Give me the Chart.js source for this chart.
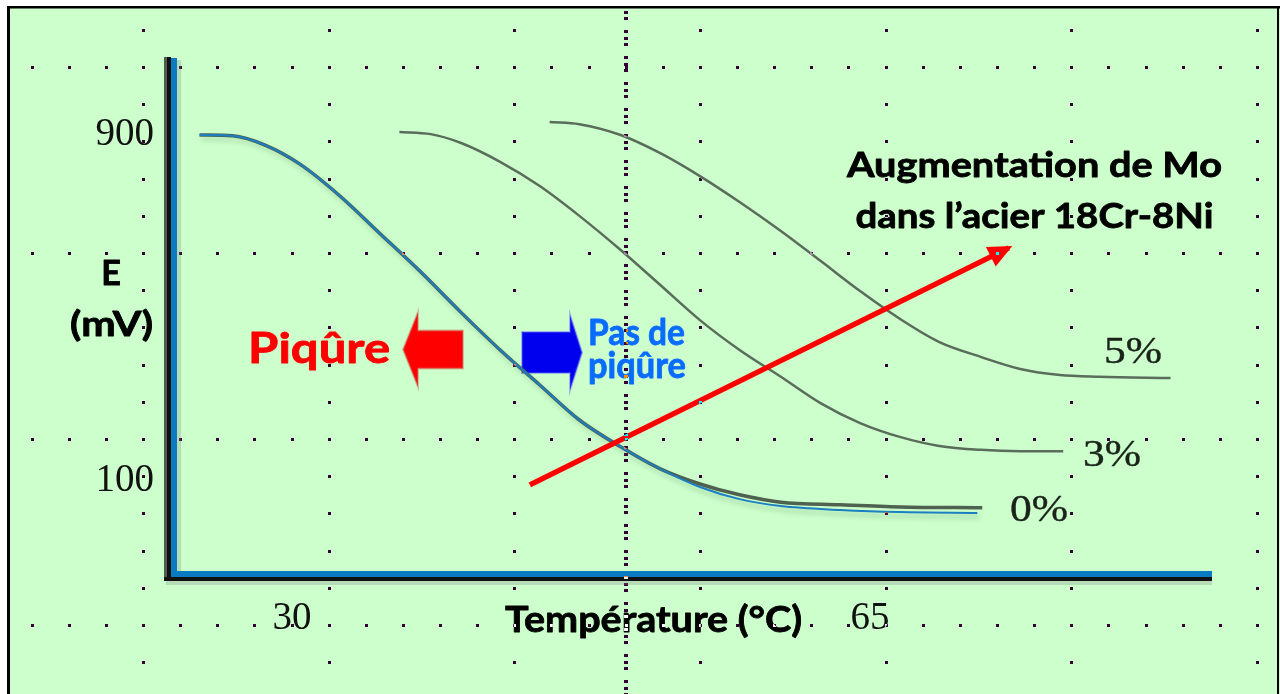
<!DOCTYPE html>
<html>
<head>
<meta charset="utf-8">
<script src="https://cdn.jsdelivr.net/npm/chart.js@4.4.0/dist/chart.umd.min.js"></script>
<style>
  html, body { margin: 0; padding: 0; background: #fff; }
  canvas { display: block; }
</style>
</head>
<body>
<canvas id="chart" width="1280" height="694"></canvas>
<script>
// Température (°C) -> E (mV)
const seriesNames = ['0%', '3%', '5%'];

const tempZero = [24.4, 26.4, 28.4, 30.5, 32.9, 35.3, 37.8, 40.2, 42.6, 45.0, 47.4, 49.9, 52.3, 54.7, 57.1, 59.6, 63.2, 66.8, 71.5];
const eZero    = [900, 898, 876, 832, 759, 673, 583, 491, 403, 322, 241, 179, 128, 86, 58, 42, 33, 28, 26];
// dark edge drawn along the 0% curve (splits off near the end)
const tempZeroEdge = [24.4, 26.4, 28.4, 30.5, 32.9, 35.3, 37.8, 40.2, 42.6, 45.0, 47.4, 49.9, 52.3, 54.7, 57.1, 59.6, 63.2, 66.8, 71.8];
const eZeroEdge    = [900, 898, 876, 832, 759, 673, 583, 491, 403, 322, 241, 179, 128, 93, 68, 51, 45, 40, 38];

const tempThree = [36.5, 38.4, 40.2, 42.6, 45.0, 47.4, 49.9, 52.3, 54.7, 57.1, 59.6, 62.0, 64.4, 66.8, 69.2, 71.7, 74.1, 76.7];
const eThree    = [907, 902, 882, 838, 782, 713, 634, 553, 472, 403, 341, 280, 234, 202, 181, 172, 169, 169];

const tempFive = [45.6, 47.4, 49.9, 52.3, 54.7, 57.1, 59.6, 62.0, 64.4, 66.8, 69.2, 71.7, 74.1, 76.5, 78.9, 83.2];
const eFive    = [930, 925, 900, 858, 805, 745, 678, 609, 539, 475, 421, 387, 359, 345, 341, 338];

// "Augmentation de Mo" arrow
const moTemp = [44.4, 73.4];
const moE    = [91, 639];

const xTicks = [30, 65];
const yTicks = [100, 900];

function pts(xs, ys) {
    return xs.map((x, i) => ({ x: x, y: ys[i] }));
}

// text sized by cap height, squeezed to the measured width
function drawFit(ctx, t, x, y, o) {
    ctx.font = o.weight + ' 100px "' + o.family + '"';
    const cap = ctx.measureText(o.ref || 'H').actualBoundingBoxAscent / 100;
    const size = o.cap / cap;
    ctx.font = o.weight + ' ' + size.toFixed(2) + 'px "' + o.family + '"';
    const w = ctx.measureText(t).width;
    const sx = o.width ? o.width / w : 1;
    ctx.save();
    ctx.translate(x, y);
    ctx.scale(sx, 1);
    ctx.textAlign = o.align || 'left';
    ctx.textBaseline = 'alphabetic';
    ctx.fillStyle = o.color;
    ctx.strokeStyle = o.color;
    ctx.lineWidth = o.stroke || 0;
    ctx.lineJoin = 'round';
    ctx.fillText(t, 0, 0);
    if (o.stroke) ctx.strokeText(t, 0, 0);
    ctx.restore();
}

const decor = {
    id: 'decor',
    beforeDraw(chart) {
        const ctx = chart.ctx, W = chart.width, H = chart.height;
        ctx.save();
        ctx.fillStyle = '#ffffff';
        ctx.fillRect(0, 0, W, H);
        ctx.fillStyle = '#ccffcc';
        ctx.fillRect(9, 8, W - 9, H - 8);
        ctx.fillStyle = '#000';
        ctx.fillRect(7, 6, 3, H - 6);
        ctx.fillRect(7, 6, W - 7, 2.5);
        ctx.fillRect(W - 3, 6, 2, H - 6);
        ctx.restore();
    },
    beforeDatasetsDraw(chart) {
        const ctx = chart.ctx;
        const { left, right, top, bottom } = chart.chartArea;
        const xs = chart.scales.x, ys = chart.scales.y;
        ctx.save();
        // axes: blue inside, black outside, soft shadow
        ctx.fillStyle = '#b6dcb6';
        ctx.fillRect(left + 6, top + 3, 4, bottom - top - 9);
        ctx.fillRect(left - 5, bottom + 4, right - left + 5, 4);
        ctx.fillStyle = '#4d5e4d';
        ctx.fillRect(left - 7, top, 3, bottom - top + 4);
        ctx.fillStyle = '#111';
        ctx.fillRect(left - 4, top, 4, bottom - top + 4);
        ctx.fillRect(left - 7, bottom, right - left + 7, 4);
        ctx.fillStyle = '#0b7bc1';
        ctx.fillRect(left, top + 1, 6, bottom - top - 1);
        ctx.fillRect(left, bottom - 6, right - left, 6);

        // block arrows "Piqûre" (left) / "Pas de piqûre" (right)
        const blocks = [
            { x: 36.72, y: 404, dir: -1, head: 15, len: 60, body: 19, half: 37.5, color: '#ff0000', edge: 'rgba(200,120,100,0.45)' },
            { x: 47.56, y: 397, dir: 1, head: 12, len: 60, body: 20.5, half: 37.5, color: '#0000ee', edge: 'rgba(90,90,255,0.45)' }
        ];
        blocks.forEach(b => {
            const tx = xs.getPixelForValue(b.x), cy = ys.getPixelForValue(b.y);
            const hb = tx - b.dir * b.head, tail = tx - b.dir * b.len;
            ctx.beginPath();
            ctx.moveTo(tx, cy);
            ctx.lineTo(hb, cy - b.half);
            ctx.lineTo(hb, cy - b.body);
            ctx.lineTo(tail, cy - b.body);
            ctx.lineTo(tail, cy + b.body);
            ctx.lineTo(hb, cy + b.body);
            ctx.lineTo(hb, cy + b.half);
            ctx.closePath();
            ctx.fillStyle = b.color;
            ctx.strokeStyle = b.edge;
            ctx.lineWidth = 2;
            ctx.fill();
            ctx.stroke();
        });
        ctx.restore();
    },
    beforeDatasetDraw(chart, args) {
        if (args.index === 1) {
            const ctx = chart.ctx;
            ctx.save();
            ctx.shadowColor = 'rgba(60,90,60,0.35)';
            ctx.shadowBlur = 5;
            ctx.shadowOffsetX = 2;
            ctx.shadowOffsetY = 4;
        }
    },
    afterDatasetDraw(chart, args) {
        if (args.index === 1) chart.ctx.restore();
    },
    afterDatasetsDraw(chart) {
        const ctx = chart.ctx;
        const xs = chart.scales.x, ys = chart.scales.y;
        ctx.save();

        // arrow head on the Mo line
        const pd = chart.getDatasetMeta(4).data;
        const a = pd[pd.length - 2], b = pd[pd.length - 1];
        const ang = Math.atan2(b.y - a.y, b.x - a.x);
        ctx.translate(b.x, b.y);
        ctx.rotate(ang);
        ctx.beginPath();
        ctx.moveTo(4, 0);
        ctx.lineTo(-20, -11);
        ctx.lineTo(-20, 11);
        ctx.closePath();
        ctx.fillStyle = '#ff0000';
        ctx.fill();
        ctx.restore();

        const sans = { weight: 'bold', family: 'Lato', stroke: 0.8 };
        const serif = { weight: 'normal', family: 'Liberation Serif', ref: '5', stroke: 0.4, color: '#1a221a', cap: 25, width: 58 };
        const notes = [
            { t: 'Piqûre', x: 27.34, y: 372.8, o: Object.assign({}, sans, { color: '#ff0000', cap: 31, width: 142 }) },
            { t: 'Pas de', x: 47.92, y: 414.4, o: Object.assign({}, sans, { color: '#0a6cff', cap: 26, width: 97 }) },
            { t: 'piqûre', x: 47.92, y: 338.1, o: Object.assign({}, sans, { color: '#0a6cff', cap: 26, width: 98 }) },
            { t: 'Augmentation de Mo', x: 74.96, y: 802.9, o: Object.assign({}, sans, { color: '#000', cap: 25, width: 375, align: 'center' }) },
            { t: 'dans l’acier 18Cr-8Ni', x: 74.96, y: 685.0, o: Object.assign({}, sans, { color: '#000', cap: 25, width: 358, align: 'center' }) },
            { t: seriesNames[2], x: 79.17, y: 372.8, o: serif },
            { t: seriesNames[1], x: 77.90, y: 134.7, o: serif },
            { t: seriesNames[0], x: 73.48, y: 7.5, o: serif }
        ];
        notes.forEach(n => drawFit(ctx, n.t, xs.getPixelForValue(n.x), ys.getPixelForValue(n.y), n.o));

        // axis titles
        const title = Object.assign({}, sans, { color: '#000', align: 'center' });
        drawFit(ctx, 'E', 111, 285, Object.assign({}, title, { cap: 25 }));
        drawFit(ctx, '(mV)', 111.5, 336, Object.assign({}, title, { cap: 25, width: 83 }));
        drawFit(ctx, 'Température (°C)', 653.5, 632, Object.assign({}, title, { cap: 27, width: 297 }));
    },
    afterDraw(chart) {
        // slide grid: dots drawn inverted over whatever is below
        const ctx = chart.ctx, W = chart.width, H = chart.height;
        const path = new Path2D();
        const rows = [67, 253, 439, 625];
        const cols = [];
        for (let k = 0; k <= 6; k++) cols.push(143 + 185.67 * k);
        rows.forEach(y => {
            for (let x = 143 - 3 * 37.13; x < W - 4; x += 37.13) {
                path.rect(Math.round(x) - 1, y - 1, 3, 3);
            }
        });
        cols.forEach(x => {
            for (let y = 67 - 37.2; y < H; y += 37.2) {
                path.rect(Math.round(x) - 1, Math.round(y) - 1, 3, 3);
            }
        });
        for (let y = 5.3; y < H; y += 26) {
            [0, 6.3, 13].forEach(o => {
                const yy = Math.round(y + o);
                if (yy > 9) path.rect(624, yy - 1, 4, 3);
            });
        }
        ctx.save();
        ctx.globalCompositeOperation = 'difference';
        ctx.fillStyle = '#ffffff';
        ctx.fill(path);
        ctx.restore();
    }
};

const curve = { cubicInterpolationMode: 'monotone', pointRadius: 0 };

new Chart(document.getElementById('chart').getContext('2d'), {
    type: 'line',
    data: {
        datasets: [
            Object.assign({ label: seriesNames[0] + ' bord', data: pts(tempZeroEdge, eZeroEdge), borderColor: '#4f614f', borderWidth: 3.5, order: 4 }, curve),
            Object.assign({ label: seriesNames[0], data: pts(tempZero, eZero), borderColor: '#1b7fc1', borderWidth: 2, order: 3 }, curve),
            Object.assign({ label: seriesNames[1], data: pts(tempThree, eThree), borderColor: '#5a6c5a', borderWidth: 2.5, order: 2 }, curve),
            Object.assign({ label: seriesNames[2], data: pts(tempFive, eFive), borderColor: '#5a6c5a', borderWidth: 2.5, order: 1 }, curve),
            { label: 'Mo', data: pts(moTemp, moE), borderColor: '#ff0000', borderWidth: 5.5, tension: 0, pointRadius: 0, order: 0 }
        ]
    },
    options: {
        responsive: false,
        devicePixelRatio: 1,
        animation: false,
        layout: { padding: { top: 57, right: 68, left: 0, bottom: 0 } },
        plugins: {
            legend: { display: false },
            tooltip: { enabled: false }
        },
        scales: {
            x: {
                type: 'linear',
                min: 22.67,
                max: 85.71,
                grid: { display: false, drawTicks: false },
                border: { display: false },
                afterBuildTicks: s => { s.ticks = xTicks.map(v => ({ value: v })); },
                afterFit: s => { s.height = 117; },
                ticks: {
                    font: { family: 'Liberation Serif', size: 39 },
                    color: '#111',
                    padding: 18,
                    maxRotation: 0,
                    autoSkip: false
                }
            },
            y: {
                min: -122,
                max: 1080.3,
                grid: { display: false, drawTicks: false },
                border: { display: false },
                afterBuildTicks: s => { s.ticks = yTicks.map(v => ({ value: v })); },
                afterFit: s => { s.width = 171; },
                ticks: {
                    font: { family: 'Liberation Serif', size: 39 },
                    color: '#111',
                    padding: 17,
                    autoSkip: false
                }
            }
        }
    },
    plugins: [decor]
});
</script>
</body>
</html>
